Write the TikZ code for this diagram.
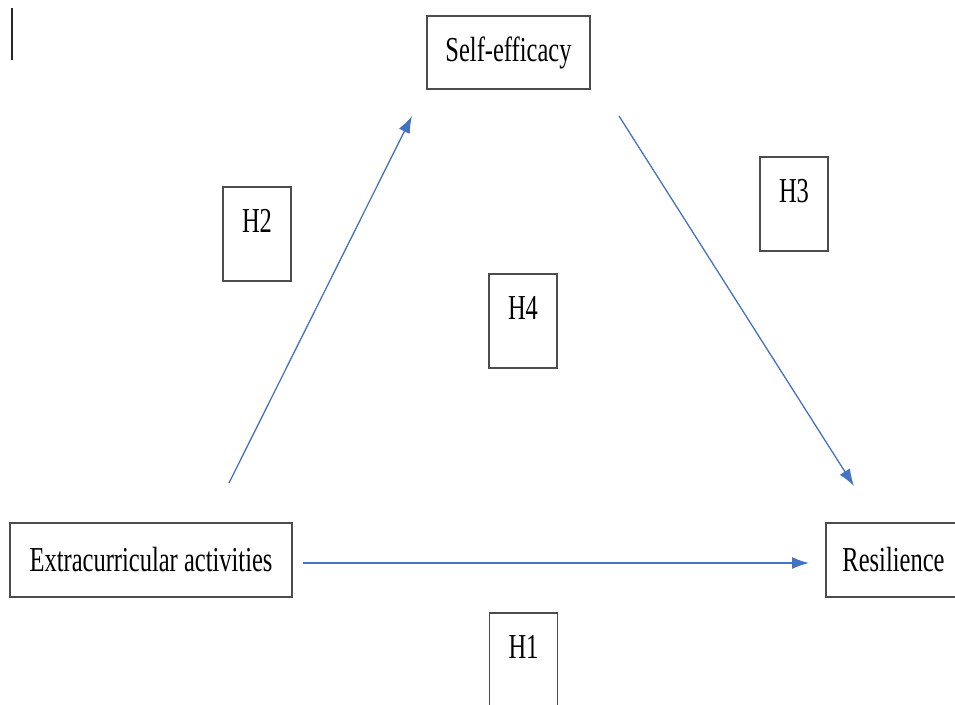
\documentclass[tikz,border=0pt]{standalone}
\usepackage{fontspec}
\setmainfont{Liberation Serif}[FakeStretch=0.7]
\usepackage{tikz}
\usetikzlibrary{arrows.meta}
\usetikzlibrary{positioning}
\definecolor{pathblue}{HTML}{4472C4}
\begin{document}
\begin{tikzpicture}
[
	x = 1pt, y = -1pt,
	Construct/.style	= {draw = black!70, line width = 1.2pt, inner sep = 0pt, outer sep = 0pt, font = \fontsize{35}{40}\selectfont, align = center},
	Hypo/.style			= {Construct, minimum width = 68pt, text height = 45pt, text depth = 49pt},
	Path/.style			= {draw = pathblue, line width = 1.3pt, -{Latex[length = 17pt, width = 12pt]}},
]

	\useasboundingbox (0,0) rectangle (955,704);

	\node (se)  [Construct, minimum width = 163pt, minimum height = 73pt] at (508.5,52.5) {Self-efficacy};
	\node (eca) [Construct, minimum width = 282pt, minimum height = 74pt] at (151,560) {Extracurricular activities};
	\node (res) [Construct, minimum width = 135pt, minimum height = 74pt] at (893.5,560) {Resilience};
	%
	\node (h2) [Hypo, anchor = north] at (257,187) {H2};
	\node (h3) [Hypo, anchor = north] at (794,157) {H3};
	\node (h4) [Hypo, anchor = north] at (523,274) {H4};
	\node (h1) [Hypo, anchor = north] at (523.5,613) {H1};

	% auxiliary nodes for the slanted paths
	\node (a2s) [coordinate] at (229,483) {};
	\node (a2e) [coordinate] at (412,116) {};
	\node (a3s) [coordinate] at (619,116) {};
	\node (a3e) [coordinate] at (854,486) {};

	\draw [Path] (a2s) -- (a2e);
	\draw [Path] (a3s) -- (a3e);
	\draw [Path, shorten <= 11pt, shorten >= 17pt] (eca.east |- 0,563) -- (res.west |- 0,563);

	% cursor mark
	\node (cur) [coordinate] at (12,8) {};
	\draw [line width = 2pt, black!85] (cur) -- ++(0,52);

\end{tikzpicture}
\end{document}
